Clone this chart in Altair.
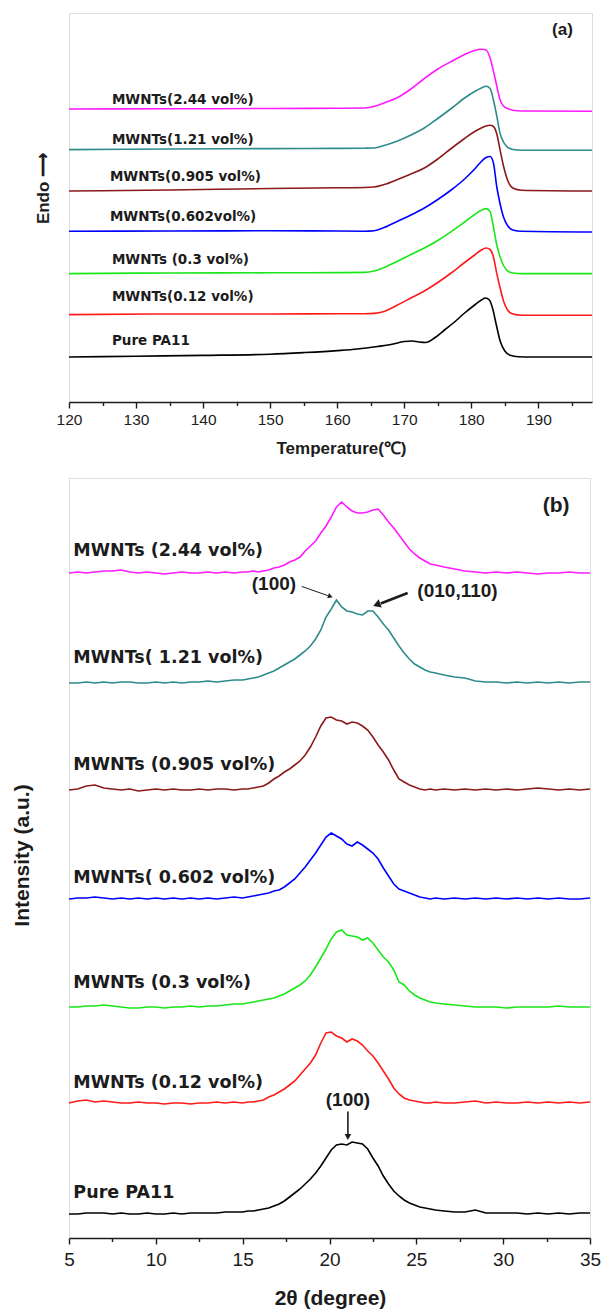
import altair as alt
import pandas as pd

# ---------------- Panel (a): DSC ----------------
dsc_T_pure = [120, 130, 140, 150, 155, 160, 163, 166, 168, 170, 171.2, 172.2, 173.2, 174.5, 176,
              177.5, 179, 180.5, 181.5, 182.1, 182.7, 183.2, 183.7, 184.3, 185, 185.8, 187, 189, 198]
dsc_pure = [45, 45.8, 46.6, 47.8, 49.4, 51.4, 53, 55.5, 57.5, 60.5, 61, 60, 59.5, 64, 72,
            80, 89, 97, 102, 104, 102, 93, 78, 61, 51, 46.7, 45.2, 45, 45]

dsc_T = [120, 135, 150, 160, 164, 165.5, 167, 169, 171, 173, 175, 177, 179, 180.5, 181.5,
         182.2, 182.8, 183.3, 183.8, 184.3, 184.8, 185.4, 186.2, 187.5, 198]
dsc_012 = [87.4, 88, 88, 88.2, 88.3, 88.6, 90.5, 97, 104, 111, 119.5, 129, 139.5, 147, 152,
           154, 152.5, 145, 128.4, 114, 101, 92, 88, 86.8, 86.7]
dsc_03 = [128.4, 129, 129.2, 129.4, 129.6, 131, 134.5, 140.8, 147.5, 154, 161.5, 170.3, 180, 187.5, 191.7,
          193.4, 190.5, 175, 157, 145, 136.5, 131.2, 129, 128.4, 128.4]
dsc_0602 = [170.7, 171, 171.2, 171, 170.8, 171.3, 174.5, 180.8, 187, 194, 202.5, 212, 223, 233, 240.5,
            244.6, 245.5, 239, 215, 198, 185, 176.5, 172, 170.7, 170]
dsc_0905 = [211, 212, 213.5, 214.2, 214.5, 215, 217.5, 222.5, 228, 234, 243, 253.5, 263.5, 270.5, 274,
            276, 276.7, 275.5, 268, 251.7, 236, 222, 214, 211.8, 211]
dsc_121 = [252.4, 253, 253.4, 253.6, 253.8, 254, 256.5, 261, 267, 274, 283.5, 293.5, 304, 310.5, 314,
           315.7, 313.5, 302, 286, 268.4, 260, 254.8, 252.5, 251.8, 251.7]
dsc_244 = [293, 293.2, 293.5, 293.8, 294, 295.5, 299, 304.5, 313, 323.5, 333, 340.5, 347.5, 351.5, 352.7,
           352, 344, 331, 316, 302, 296, 293.5, 291.8, 291, 290.7]

series_keys = ["Pure", "0.12", "0.3", "0.602", "0.905", "1.21", "2.44"]
series_colors = ["#000000", "#FF1A1A", "#1AE61A", "#0000FF", "#8B1A1A", "#2E8B8B", "#FF1AFF"]

dsc_label_text = ["Pure PA11", "MWNTs(0.12 vol%)", "MWNTs (0.3 vol%)", "MWNTs(0.602vol%)",
                  "MWNTs(0.905 vol%)", "MWNTs(1.21 vol%)", "MWNTs(2.44 vol%)"]
dsc_label_T = [126.4, 126.4, 126.4, 126.1, 126.1, 126.4, 126.4]
dsc_label_h = [61, 105, 142.4, 185, 225, 262.4, 302.4]

# ---------------- Panel (b): XRD ----------------
two_theta = [5.0, 5.5, 6.0, 6.5, 7.0, 7.5, 8.0, 8.5, 9.0, 9.5, 10.0, 10.5, 11.0, 11.5, 12.0, 12.5, 13.0,
             13.5, 14.0, 14.5, 15.0,
             15.3, 15.6, 15.9, 16.2, 16.5, 16.8, 17.1, 17.4, 17.7, 18.0, 18.3, 18.6, 18.9, 19.2, 19.5,
             19.8, 20.1, 20.4, 20.7, 21.0, 21.3, 21.6, 21.9, 22.2, 22.5, 22.8, 23.1, 23.4, 23.7, 24.0,
             24.3, 24.6, 24.9, 25.2, 25.5, 25.8, 26.1,
             26.6, 27.2, 27.8, 28.4, 29.0, 29.6, 30.2, 30.8, 31.4, 32.0, 32.6, 33.2, 33.8, 34.4, 35.0]

xrd_pure = [0, 0, 1, 1, 1, 0, 1, 0, 0, 1, 0, 0, 1, 0, 1, 1, 1, 1, 2, 2, 2,
            3, 3, 4, 5, 6, 8, 10, 13, 17, 21, 25, 30, 35, 41, 48, 56, 64, 69, 70, 69, 72, 71, 70, 65,
            56, 48, 38, 30, 23, 18, 14, 11, 9, 7, 6, 5, 4,
            3, 2, 2, 4, 1, 1, 1, 1, 0, 1, 0, 1, 0, 1, 1]
xrd_012 = [0, 2, 3, 1, 2, 1, 0, 0, 1, 0, 0, -1, 0, 0, -1, 0, 0, 1, 0, 1, 0,
           1, 1, 2, 3, 6, 8, 11, 14, 18, 22, 28, 34, 40, 48, 60, 70, 71, 67, 65, 61, 64, 62, 58, 52,
           47, 40, 32, 24, 15, 9, 5, 3, 2, 1, 0, 0, 1,
           0, 0, 1, 2, 0, 1, 0, 0, 1, 0, 1, 0, 1, 0, 1]
xrd_03 = [0, 0, 1, 1, 2, 1, 0, -1, -1, 0, 0, -1, 0, 0, 1, 0, 1, 1, 2, 3, 3,
          4, 5, 6, 7, 8, 9, 11, 13, 16, 19, 22, 26, 32, 40, 49, 58, 68, 75, 77, 72, 71, 70, 67, 69,
          64, 57, 50, 45, 37, 25, 22, 16, 12, 9, 7, 5, 4,
          3, 2, 1, 0, 0, 0, -1, 0, 0, 0, 0, 1, 0, 0, 0]
xrd_0602 = [0, 1, 1, 2, 1, 0, 1, 0, 1, 0, 1, 0, 1, 0, 1, 0, 1, 0, 1, 2, 1,
            2, 3, 4, 5, 6, 8, 9, 12, 16, 20, 26, 32, 39, 46, 54, 62, 66, 63, 60, 55, 53, 57, 54, 50,
            46, 40, 31, 23, 15, 10, 8, 6, 4, 2, 1, 0, 1,
            0, 1, 0, 1, 0, 1, 0, 1, 0, 1, 0, 1, 0, 0, 1]
xrd_0905 = [0, 1, 4, 5, 2, 1, 0, 1, -1, 0, 1, 0, 1, 0, 0, 1, 0, 1, 1, 0, 1,
            1, 2, 3, 4, 7, 11, 14, 18, 21, 25, 29, 35, 43, 53, 64, 72, 73, 70, 69, 66, 68, 67, 64, 60,
            53, 45, 38, 30, 20, 11, 8, 5, 3, 1, 0, 1, 0,
            1, 0, 1, 0, 1, 0, 1, 0, 1, 2, 1, 0, 1, 0, 1]
xrd_121 = [0, 0, 1, 0, 1, 0, 1, 1, 0, 0, 1, 0, 1, 0, 1, 1, 2, 1, 2, 3, 3,
           4, 5, 6, 8, 10, 12, 15, 18, 21, 24, 28, 32, 37, 44, 53, 66, 74, 83, 76, 72, 71, 69, 68, 72,
           72, 66, 59, 53, 45, 37, 30, 24, 19, 16, 13, 11, 10,
           8, 6, 5, 2, 1, 1, 0, 1, 0, 1, 0, 1, 0, 1, 1]
xrd_244 = [0, 1, 0, 1, 2, 2, 3, 1, 0, 1, 0, -1, 0, 1, 0, 0, 1, 0, 1, 0, 1,
           1, 2, 1, 2, 3, 5, 6, 8, 11, 13, 16, 22, 27, 32, 40, 47, 56, 66, 71, 66, 62, 60, 60, 61,
           63, 64, 58, 51, 45, 38, 31, 24, 19, 15, 12, 9, 8,
           6, 4, 2, 1, 0, 1, 0, 1, 0, -1, 0, 0, 1, 0, 0]
# vertical stacking offset of each pattern (baseline level)
xrd_offsets = [24, 135, 231, 339, 448, 555, 665]

xrd_label_text = ["Pure PA11", "MWNTs (0.12 vol%)", "MWNTs (0.3 vol%)", "MWNTs( 0.602 vol%)",
                  "MWNTs (0.905 vol%)", "MWNTs( 1.21 vol%)", "MWNTs (2.44 vol%)"]
xrd_label_x = [5.25, 5.25, 5.25, 5.25, 5.25, 5.25, 5.25]
xrd_label_h = [45, 155, 255, 360, 473, 580, 687]

# annotations (b)
ann_text = ["(100)", "(010,110)", "(100)"]
ann_x = [16.8, 27.37, 21.06]
ann_h = [654, 647, 138]
arrow_x = [18.4, 24.5, 21.06]
arrow_h = [651.6, 645, 126.6]
arrow_x2 = [19.9, 22.95, 21.06]
arrow_h2 = [642.4, 634.5, 104]
arrow_w = [1.0, 2.6, 1.6]
head_x = [20.05, 22.72, 21.06]
head_h = [641.6, 633.3, 101]
head_angle = [109, 249, 180]
head_size = [30, 75, 45]

# ---------------- build tables ----------------
dsc_sets = [(dsc_T_pure, dsc_pure), (dsc_T, dsc_012), (dsc_T, dsc_03), (dsc_T, dsc_0602),
            (dsc_T, dsc_0905), (dsc_T, dsc_121), (dsc_T, dsc_244)]
rows = []
for key, (ts, hs) in zip(series_keys, dsc_sets):
    for t, h in zip(ts, hs):
        rows.append({"T": t, "h": h, "series": key})
df_a = pd.DataFrame(rows)
df_a_lab = pd.DataFrame({"T": dsc_label_T, "h": dsc_label_h, "text": dsc_label_text})
df_a_tag = pd.DataFrame({"T": [193.6], "h": [371.7], "text": ["(a)"]})

xrd_sets = [xrd_pure, xrd_012, xrd_03, xrd_0602, xrd_0905, xrd_121, xrd_244]
rows = []
for key, prof, off in zip(series_keys, xrd_sets, xrd_offsets):
    for x, v in zip(two_theta, prof):
        rows.append({"x": x, "h": v + off, "series": key})
df_b = pd.DataFrame(rows)
df_b_lab = pd.DataFrame({"x": xrd_label_x, "h": xrd_label_h, "text": xrd_label_text})
df_b_tag = pd.DataFrame({"x": [33.05], "h": [731.6], "text": ["(b)"]})
df_ann = pd.DataFrame({"x": ann_x, "h": ann_h, "text": ann_text})
df_arrow = pd.DataFrame({"x": arrow_x, "h": arrow_h, "x2": arrow_x2, "h2": arrow_h2, "w": arrow_w})
df_head = pd.DataFrame({"x": head_x, "h": head_h, "angle": head_angle, "size": head_size})

INK = "#1c1c1c"
color_scale = alt.Scale(domain=series_keys, range=series_colors)

# ---------------- chart (a) ----------------
xa = alt.X("T:Q",
           scale=alt.Scale(domain=[120, 198], nice=False, zero=False),
           axis=alt.Axis(values=list(range(120, 200, 5)),
                         labelExpr="datum.value % 10 == 0 ? datum.label : ''",
                         tickSize={"condition": {"test": "datum.value % 10 == 0", "value": 6}, "value": 3.5},
                         tickColor=INK, tickWidth=1.4, domainColor=INK, domainWidth=1.6,
                         labelFont="Liberation Sans", labelFontSize=15.5, labelColor=INK,
                         labelPadding=4, labelFlush=False, grid=False,
                         title="Temperature(℃)", titleFont="Liberation Sans", titleFontSize=17,
                         titleFontWeight="bold", titleColor=INK, titleX=272, titleY=46,
                         titleBaseline="middle", titleAlign="center"))
ya = alt.Y("h:Q",
           scale=alt.Scale(domain=[0, 389], nice=False, zero=False),
           axis=alt.Axis(labels=False, ticks=False, domain=False, grid=False,
                         title="Endo ⟶", titleFont="Liberation Sans", titleFontSize=17,
                         titleFontWeight="bold", titleColor=INK, titleX=-26, titleY=175,
                         titleAngle=270, titleBaseline="middle", titleAlign="center"))

lines_a = alt.Chart(df_a).mark_line(strokeWidth=1.6, interpolate="monotone").encode(
    x=xa, y=ya, color=alt.Color("series:N", scale=color_scale, legend=None), detail="series:N")
labels_a = alt.Chart(df_a_lab).mark_text(align="left", baseline="middle", font="DejaVu Sans",
                                         fontWeight="bold", fontSize=13.5, color=INK).encode(
    x=xa, y=ya, text="text:N")
tag_a = alt.Chart(df_a_tag).mark_text(align="center", baseline="middle", font="Liberation Sans",
                                      fontWeight="bold", fontSize=17, color=INK).encode(
    x=xa, y=ya, text="text:N")
chart_a = alt.layer(lines_a, labels_a, tag_a).properties(width=523, height=389)

# ---------------- chart (b) ----------------
xb = alt.X("x:Q",
           scale=alt.Scale(domain=[5, 35], nice=False, zero=False),
           axis=alt.Axis(values=[5, 7.5, 10, 12.5, 15, 17.5, 20, 22.5, 25, 27.5, 30, 32.5, 35],
                         labelExpr="datum.value % 5 == 0 ? datum.label : ''",
                         tickSize={"condition": {"test": "datum.value % 5 == 0", "value": 6}, "value": 3.5},
                         tickColor=INK, tickWidth=1.4, domainColor=INK, domainWidth=1.6,
                         labelFont="Liberation Sans", labelFontSize=19, labelColor=INK,
                         labelPadding=6, labelFlush=False, grid=False,
                         title="2θ (degree)", titleFont="Liberation Sans", titleFontSize=21,
                         titleFontWeight="bold", titleColor=INK, titleX=261, titleY=60,
                         titleBaseline="middle", titleAlign="center"))
yb = alt.Y("h:Q",
           scale=alt.Scale(domain=[0, 760], nice=False, zero=False),
           axis=alt.Axis(labels=False, ticks=False, domain=False, grid=False,
                         title="Intensity (a.u.)", titleFont="Liberation Sans", titleFontSize=21,
                         titleFontWeight="bold", titleColor=INK, titleX=-47, titleY=377,
                         titleAngle=270, titleBaseline="middle", titleAlign="center"))

lines_b = alt.Chart(df_b).mark_line(strokeWidth=1.6).encode(
    x=xb, y=yb, color=alt.Color("series:N", scale=color_scale, legend=None), detail="series:N")
labels_b = alt.Chart(df_b_lab).mark_text(align="left", baseline="middle", font="DejaVu Sans",
                                         fontWeight="bold", fontSize=17.5, color=INK).encode(
    x=xb, y=yb, text="text:N")
tag_b = alt.Chart(df_b_tag).mark_text(align="center", baseline="middle", font="Liberation Sans",
                                      fontWeight="bold", fontSize=21, color=INK).encode(
    x=xb, y=yb, text="text:N")
ann_b = alt.Chart(df_ann).mark_text(align="center", baseline="middle", font="Liberation Sans",
                                    fontWeight="bold", fontSize=19, color=INK).encode(
    x=xb, y=yb, text="text:N")
arrows_b = alt.Chart(df_arrow).mark_rule(color=INK).encode(
    x=xb, y=yb, x2="x2:Q", y2="h2:Q",
    strokeWidth=alt.StrokeWidth("w:Q", scale=None, legend=None))
heads_b = alt.Chart(df_head).mark_point(shape="triangle-up", filled=True, color=INK, opacity=1).encode(
    x=xb, y=yb, angle=alt.Angle("angle:Q", scale=None),
    size=alt.Size("size:Q", scale=None, legend=None))
chart_b = alt.layer(lines_b, labels_b, tag_b, ann_b, arrows_b, heads_b).properties(width=521, height=760)

chart = alt.vconcat(chart_a, chart_b, spacing=76).properties(
    bounds="flush",
    padding={"left": 10, "top": 12, "right": 0, "bottom": 0}
).configure_view(stroke=INK, strokeWidth=1.6).configure(background="white")

chart.save("out.html", embed_options={"renderer": "svg", "actions": False})
